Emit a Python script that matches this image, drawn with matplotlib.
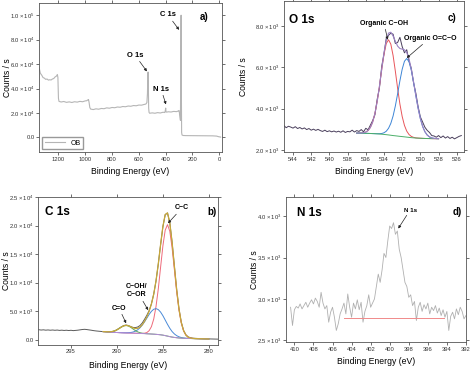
"""
XPS spectra of the OB sample: survey, C 1s, O 1s and N 1s regions.
"""

import numpy as np
import matplotlib

matplotlib.use("Agg")
import matplotlib.pyplot as plt
from matplotlib.ticker import FuncFormatter

plt.rcParams["font.family"] = ["Liberation Sans", "DejaVu Sans"]
plt.rcParams["mathtext.default"] = "regular"

# ---------------- survey (panel a) ----------------
survey_be = [1345, 1340, 1335, 1325, 1315, 1305, 1295, 1285, 1275, 1265, 1255, 1245,
             1235, 1225, 1215, 1208, 1204, 1200, 1196, 1180, 1160, 1140, 1120, 1100,
             1080, 1060, 1040, 1020, 1000, 990, 982, 976, 972, 966, 960, 940, 920, 900,
             880, 860, 840, 820, 800, 780, 760, 740, 720, 700, 680, 660, 640, 620, 600,
             580, 560, 548, 540, 536, 533, 531, 529, 527, 524, 520, 500, 480, 460, 440,
             420, 406, 402, 400, 398, 394, 380, 360, 340, 320, 306, 300, 295, 290, 287,
             285, 283, 281, 278, 270, 250, 200, 150, 100, 50, 20, 5, -10]
survey_counts = [57500, 55000, 52500, 51000, 49000, 48500, 47500, 47800, 46900, 47200,
                 47000, 47800, 48200, 49500, 50200, 51500, 49000, 32000, 29500, 29000,
                 29400, 28700, 29100, 28600, 29200, 28900, 29500, 29200, 29900, 30000,
                 30600, 31000, 29000, 24500, 23200, 22800, 23400, 23100, 23700, 23500,
                 24200, 23900, 24500, 24300, 24900, 24700, 25300, 25100, 25700, 25500,
                 26100, 25900, 26500, 26400, 27000, 27300, 28500, 36000, 52000, 53500,
                 40000, 24000, 20500, 19800, 20100, 19800, 20300, 20000, 20600, 20400,
                 22500, 24000, 21200, 20700, 21000, 20800, 21300, 21100, 21600, 22000,
                 18000, 14000, 60000, 100000, 40000, 4000, 2000, 1600, 1500, 1450, 1400,
                 1350, 1300, 1100, 600, 300]

# ---------------- C 1s (panel b) ----------------
c1s_be = np.arange(298.5, 278.99, -0.25)
c1s_counts = [1780, 1720, 1760, 1700, 1740, 1690, 1730, 1680, 1720, 1660, 1700, 1650,
              1690, 1640, 1680, 1620, 1660, 1700, 1760, 1820, 1850, 1800, 1740, 1680,
              1610, 1560, 1520, 1480,
              1440, 1450, 1420, 1450, 1480, 1560, 1780, 2050, 2300, 2520, 2600, 2500,
              2320, 2180, 2150, 2250, 2500, 2950, 3600, 4300, 5100, 6300, 8000, 10300,
              13300, 16650, 19800, 21900, 22200, 20500, 17100, 12900, 8800, 5450, 3100,
              1650, 900, 520, 380, 300, 270, 250, 230, 220, 200, 190, 170,
              160, 150, 140, 130]
c1s_fit_be = np.arange(291.5, 279.99, -0.25)
c1s_bg = [1450, 1420, 1390, 1360, 1330, 1310, 1290, 1270, 1250, 1235, 1220, 1205, 1190,
          1175, 1160, 1145, 1130, 1110, 1090, 1070, 1050, 1025, 1000, 970, 935, 890,
          830, 750, 660, 570, 490, 430, 380, 340, 310, 285, 265, 250, 240, 230, 220,
          210, 200, 190, 180, 170, 160]
c1s_cc = [0, 0, 0, 0, 0, 0, 0, 0, 0, 0, 0, 0, 0, 0, 0, 0, 0,
          25, 80, 210, 560, 1290, 2630, 4860, 8010, 11840, 15620, 18450, 19500, 18450,
          15620, 11840, 8010, 4860, 2630, 1290, 560, 210, 80, 25, 8, 2, 0, 0, 0, 0, 0]
c1s_coh = [0, 0, 0, 0, 0, 0, 1, 2, 4, 10, 23, 50, 100, 200, 360, 610, 970, 1460, 2060,
           2730, 3400, 3970, 4360, 4500, 4360, 3970, 3400, 2730, 2060, 1460, 970, 610,
           360, 200, 100, 50, 23, 10, 4, 2, 0, 0, 0, 0, 0, 0, 0]
c1s_co = [3, 8, 22, 57, 130, 260, 470, 730, 1010, 1220, 1300, 1220, 1010, 730, 470, 260,
          130, 57, 22, 8, 3, 0, 0, 0, 0, 0, 0, 0, 0, 0, 0, 0, 0, 0, 0, 0, 0, 0, 0, 0,
          0, 0, 0, 0, 0, 0, 0]

# ---------------- O 1s (panel c) ----------------
o1s_be = np.arange(545.0, 525.49, -0.25)
o1s_counts = [3180, 3080, 3150, 3110, 3060, 3130, 3040, 3090, 3020, 3070, 2990, 3040,
              2960, 3010, 2950, 3000, 2940, 2900, 2960, 2890, 2930, 2880, 2920, 2870,
              2910, 2860, 2930, 2850, 2900, 2880, 2960, 2870, 2940,
              2900, 2990, 2880, 3050, 2980, 3200, 3420, 3700, 4450, 5000, 6050, 6650,
              7400, 7550, 7650, 7600, 7150, 7200, 7450, 7000, 6700, 6850, 6300, 5950,
              5250, 4750, 4100, 3600, 3350, 3100, 2950, 2850, 2700, 2680, 2620, 2700,
              2600, 2680, 2580, 2650, 2560, 2620, 2540, 2600, 2660, 2700]
o1s_fit_be = np.arange(537.0, 527.99, -0.25)
o1s_bg = [2820, 2818, 2815, 2812, 2810, 2805, 2800, 2795, 2790, 2783, 2775, 2765, 2755,
          2743, 2730, 2715, 2700, 2688, 2675, 2662, 2650, 2638, 2625, 2612, 2600, 2590,
          2580, 2575, 2570, 2565, 2560, 2557, 2555, 2552, 2550, 2549, 2548]
o1s_coh = [1, 3, 9, 23, 60, 138, 290, 552, 971, 1559, 2300, 3119, 3869, 4407, 4600,
           4407, 3869, 3119, 2300, 1559, 971, 552, 290, 138, 60, 23, 9, 3, 1,
           0, 0, 0, 0, 0, 0, 0, 0]
o1s_oco = [0, 0, 0, 0, 0, 0, 0, 1, 2, 6, 15, 34, 80, 167, 323, 574, 946, 1448, 2048,
           2687, 3257, 3656, 3800, 3656, 3257, 2687, 2048, 1448, 946, 574, 323, 167,
           80, 34, 15, 6, 2]

# ---------------- N 1s (panel d) ----------------
n1s_be = np.arange(410.4, 391.99, -0.2)
n1s_counts = [2900, 2680, 2870, 2910, 2890, 2940, 2880,
              2920, 2960, 2900, 2950, 2990, 2940, 3010, 2970, 2900, 3080,
              2950, 2880, 2920, 2720, 2840, 2900, 2780, 2620, 2700, 2820,
              2880, 2950, 2820, 3060, 2900, 2780, 2950, 2880, 2990, 2870,
              2960, 2720, 2850, 2920, 3050, 2900, 2950, 3000, 3150, 3300,
              3200, 3350, 3550, 3500, 3700, 3880, 3850, 3920, 3780, 3820,
              3600, 3500, 3350, 3200, 3150, 3020, 3050, 2920, 2970, 2740,
              2900, 2960, 2850, 2930, 2880, 2950, 2820, 2900, 2860, 2920,
              2830, 2890, 2800, 2870, 2780, 2850, 2620, 2790, 2840, 2760,
              2880, 2810, 2900, 2850, 2760, 2800]
n1s_base_be = [404.8, 394.3]
n1s_base = [2775, 2775]


def sci_label(v, pos):
    if abs(v) < 1e-9:
        return "0.0"
    exp = int(np.floor(np.log10(abs(v))))
    return f"${v / 10 ** exp:.1f}\\times10^{{{exp}}}$"


def style_axes(ax, xlim, ylim, xticks, yticks, xlab_y, ylab_x):
    ax.set_xlim(*xlim)
    ax.set_ylim(*ylim)
    ax.set_xticks(xticks)
    ax.set_yticks(yticks)
    ax.yaxis.set_major_formatter(FuncFormatter(sci_label))
    ax.tick_params(labelsize=4.2, length=2, width=0.5, pad=1.2, colors="#333333")
    ax.tick_params(which="both", right=True, top=True, direction="out")
    for sp in ax.spines.values():
        sp.set_linewidth(0.6)
        sp.set_color("#555555")
    ax.set_xlabel("Binding Energy (eV)", fontsize=6.2)
    ax.set_ylabel("Counts / s", fontsize=6.2)
    ax.xaxis.set_label_coords(0.5, xlab_y)
    ax.yaxis.set_label_coords(ylab_x, 0.5)


arrow = dict(arrowstyle="-|>", lw=0.5, color="#222222", mutation_scale=4,
             shrinkA=0, shrinkB=0)

fig = plt.figure(figsize=(4.74, 3.71), dpi=100)

# panel a
ax_a = fig.add_axes([0.0823, 0.590, 0.386, 0.402])
ax_a.plot(survey_be, survey_counts, color="#b5b5b5", lw=0.8, label="OB")
style_axes(ax_a, (1345, -20), (-12000, 110000), [1200, 1000, 800, 600, 400, 200, 0],
           [0, 2e4, 4e4, 6e4, 8e4, 1e5], -0.1, -0.15)
ax_a.legend(loc="lower left", fontsize=5, handlelength=3, fancybox=False,
            edgecolor="#999999", borderpad=0.3, framealpha=1)
ax_a.annotate("C 1s", xy=(300, 88000), xytext=(0.705, 0.92), textcoords="axes fraction",
              fontsize=5.5, fontweight="bold", ha="center", va="center", arrowprops=arrow)
ax_a.annotate("O 1s", xy=(540, 54000), xytext=(0.525, 0.65), textcoords="axes fraction",
              fontsize=5.5, fontweight="bold", ha="center", va="center", arrowprops=arrow)
ax_a.annotate("N 1s", xy=(398, 27000), xytext=(0.667, 0.423), textcoords="axes fraction",
              fontsize=5.5, fontweight="bold", ha="center", va="center", arrowprops=arrow)
ax_a.text(0.90, 0.905, "a)", transform=ax_a.transAxes, fontsize=7, fontweight="bold",
          ha="center", va="center")

# panel c
ax_c = fig.add_axes([0.599, 0.590, 0.380, 0.407])
bg = np.array(o1s_bg)
ax_c.plot(o1s_be, o1s_counts, color="#4a3f5c", lw=0.7)
ax_c.plot(o1s_fit_be, bg + np.array(o1s_coh), color="#e8555a", lw=0.7)
ax_c.plot(o1s_fit_be, bg + np.array(o1s_oco), color="#3d85d6", lw=0.7)
ax_c.plot(o1s_fit_be, bg, color="#4caf6a", lw=0.7)
ax_c.plot(o1s_fit_be, bg + np.array(o1s_coh) + np.array(o1s_oco), color="#9b82c4", lw=0.8)
style_axes(ax_c, (545, 525.2), (1900, 9200), list(range(544, 525, -2)),
           [2000, 4000, 6000, 8000], -0.1, -0.2)
ax_c.text(0.03, 0.875, "O 1s", transform=ax_c.transAxes, fontsize=8.5, fontweight="bold",
          ha="left", va="center")
ax_c.text(0.933, 0.887, "c)", transform=ax_c.transAxes, fontsize=7, fontweight="bold",
          ha="center", va="center")
ax_c.annotate("Organic C\u2212OH", xy=(533.6, 7330), xytext=(0.556, 0.855),
              textcoords="axes fraction", fontsize=5, fontweight="bold", ha="center",
              va="center", arrowprops=arrow)
ax_c.annotate("Organic O=C\u2212O", xy=(531.5, 6450), xytext=(0.81, 0.755),
              textcoords="axes fraction", fontsize=5, fontweight="bold", ha="center",
              va="center", arrowprops=arrow)

# panel b
ax_b = fig.add_axes([0.080, 0.070, 0.380, 0.399])
bg = np.array(c1s_bg)
ax_b.plot(c1s_be, c1s_counts, color="#5a5a5a", lw=0.7)
ax_b.plot(c1s_fit_be, bg + np.array(c1s_cc), color="#ee6a7a", lw=0.7)
ax_b.plot(c1s_fit_be, bg + np.array(c1s_coh), color="#4a8ad8", lw=0.7)
ax_b.plot(c1s_fit_be, bg + np.array(c1s_co), color="#5aa85a", lw=0.7)
ax_b.plot(c1s_fit_be, bg, color="#b48bd8", lw=0.7)
ax_b.plot(c1s_fit_be, bg + np.array(c1s_cc) + np.array(c1s_coh) + np.array(c1s_co),
          color="#c8a83a", lw=0.9)
style_axes(ax_b, (298.6, 279), (-900, 25000), [295, 290, 285, 280],
           [0, 5000, 10000, 15000, 20000, 25000], -0.11, -0.15)
ax_b.text(0.04, 0.90, "C 1s", transform=ax_b.transAxes, fontsize=8.5, fontweight="bold",
          ha="left", va="center")
ax_b.text(0.967, 0.90, "b)", transform=ax_b.transAxes, fontsize=7, fontweight="bold",
          ha="center", va="center")
ax_b.annotate("C\u2212C", xy=(284.45, 20400), xytext=(0.80, 0.926),
              textcoords="axes fraction", fontsize=5, fontweight="bold", ha="center",
              va="center", arrowprops=arrow)
ax_b.annotate("C\u2212OH/\nC\u2212OR", xy=(286.6, 5200), xytext=(0.55, 0.365),
              textcoords="axes fraction", fontsize=5, fontweight="bold", ha="center",
              va="center", arrowprops=arrow)
ax_b.annotate("C=O", xy=(289.0, 2900), xytext=(0.45, 0.25),
              textcoords="axes fraction", fontsize=5, fontweight="bold", ha="center",
              va="center", arrowprops=arrow)

# panel d
ax_d = fig.add_axes([0.603, 0.078, 0.380, 0.391])
ax_d.plot(n1s_be, n1s_counts, color="#b0b0b0", lw=0.6)
ax_d.plot(n1s_base_be, n1s_base, color="#f08a8a", lw=0.7)
style_axes(ax_d, (410.9, 392), (2480, 4230), list(range(410, 391, -2)),
           [2500, 3000, 3500, 4000], -0.1, -0.15)
ax_d.text(0.06, 0.89, "N 1s", transform=ax_d.transAxes, fontsize=8.5, fontweight="bold",
          ha="left", va="center")
ax_d.text(0.95, 0.897, "d)", transform=ax_d.transAxes, fontsize=7, fontweight="bold",
          ha="center", va="center")
ax_d.annotate("N 1s", xy=(399.1, 3850), xytext=(0.69, 0.91),
              textcoords="axes fraction", fontsize=4.5, fontweight="bold", ha="center",
              va="center", arrowprops=arrow)

fig.savefig("out.png", dpi=100)
plt.close(fig)
